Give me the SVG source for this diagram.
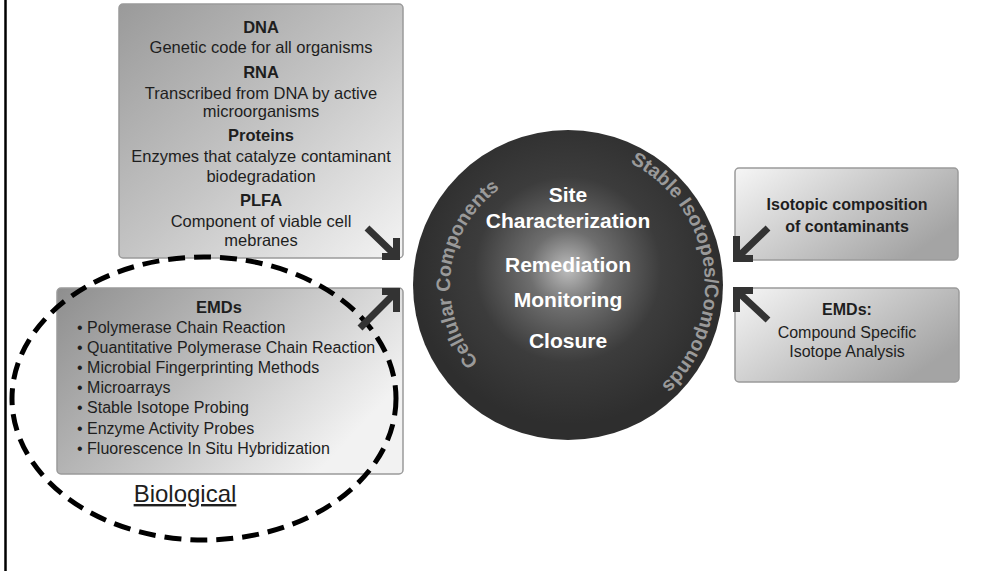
<svg xmlns="http://www.w3.org/2000/svg" width="1005" height="571" viewBox="0 0 1005 571">
<defs>
<linearGradient id="gTop" x1="0" y1="0" x2="1" y2="1">
<stop offset="0" stop-color="#9a9a9a"/>
<stop offset="0.5" stop-color="#c4c4c4"/>
<stop offset="1" stop-color="#f4f4f4"/>
</linearGradient>
<linearGradient id="gEmd" x1="0" y1="0" x2="1" y2="0.5">
<stop offset="0" stop-color="#8e8e8e"/>
<stop offset="0.5" stop-color="#bdbdbd"/>
<stop offset="1" stop-color="#f2f2f2"/>
</linearGradient>
<linearGradient id="gRight" x1="0" y1="0" x2="1" y2="0.6">
<stop offset="0" stop-color="#f6f6f6"/>
<stop offset="0.5" stop-color="#cdcdcd"/>
<stop offset="1" stop-color="#a4a4a4"/>
</linearGradient>
<radialGradient id="gCircle" cx="0.5" cy="0.45" r="0.5">
<stop offset="0" stop-color="#bdbdbd"/>
<stop offset="0.25" stop-color="#6e6e6e"/>
<stop offset="0.6" stop-color="#3c3c3c"/>
<stop offset="1" stop-color="#2e2e2e"/>
</radialGradient>
<path id="arcLeft" d="M497,379.2 A118,118 0 0 1 521.9,176.4"/>
<path id="arcRight" d="M619.3,158 A137,137 0 0 1 652.3,393"/>
</defs>
<style>
.box{stroke:#9a9a9a;stroke-width:1.5}
.t{font-family:"Liberation Sans",Arial,sans-serif;fill:#1e1e1e;text-anchor:middle}
.b{font-weight:bold}
.li{font-family:"Liberation Sans",Arial,sans-serif;fill:#1e1e1e;font-size:16px}
.ct{font-family:"Liberation Sans",Arial,sans-serif;font-weight:bold;fill:#ffffff;font-size:21px;text-anchor:middle}
.arc{font-family:"Liberation Sans",Arial,sans-serif;font-weight:bold;fill:#9a9a9a;font-size:19.5px;text-anchor:middle}
.arrow{fill:none;stroke:#333333;stroke-width:7;stroke-linejoin:miter;stroke-linecap:butt}
</style>
<line x1="5.5" y1="0" x2="5.5" y2="571" stroke="#000" stroke-width="2.5"/>
<g id="cellular-box">
<rect class="box" x="119" y="4" width="284" height="254" rx="4" fill="url(#gTop)"/>
<text class="t b" x="261" y="33" font-size="16.5">DNA</text>
<text class="t" x="261" y="53" font-size="16.5">Genetic code for all organisms</text>
<text class="t b" x="261" y="78" font-size="16.5">RNA</text>
<text class="t" x="261" y="99" font-size="16.5">Transcribed from DNA by active</text>
<text class="t" x="261" y="117" font-size="16.5">microorganisms</text>
<text class="t b" x="261" y="141" font-size="16.5">Proteins</text>
<text class="t" x="261" y="162" font-size="16.5">Enzymes that catalyze contaminant</text>
<text class="t" x="261" y="182" font-size="16.5">biodegradation</text>
<text class="t b" x="261" y="206" font-size="16.5">PLFA</text>
<text class="t" x="261" y="227" font-size="16.5">Component of viable cell</text>
<text class="t" x="261" y="246" font-size="16.5">mebranes</text>
</g>
<g id="emds-box">
<rect class="box" x="57" y="288" width="346" height="186" rx="4" fill="url(#gEmd)"/>
<text class="t b" x="219" y="313" font-size="16.5">EMDs</text>
<text class="li" x="77" y="333">• Polymerase Chain Reaction</text>
<text class="li" x="77" y="353">• Quantitative Polymerase Chain Reaction</text>
<text class="li" x="77" y="373">• Microbial Fingerprinting Methods</text>
<text class="li" x="77" y="393">• Microarrays</text>
<text class="li" x="77" y="413">• Stable Isotope Probing</text>
<text class="li" x="77" y="434">• Enzyme Activity Probes</text>
<text class="li" x="77" y="454">• Fluorescence In Situ Hybridization</text>
</g>
<g id="biological-group">
<ellipse cx="204" cy="398.5" rx="192" ry="141.5" fill="none" stroke="#000" stroke-width="5" stroke-dasharray="17 9"/>
<text class="t" x="185" y="502" font-size="24" fill="#000" text-decoration="underline">Biological</text>
</g>
<g id="center-circle">
<circle cx="568" cy="285" r="155" fill="url(#gCircle)"/>
<text class="ct" x="568" y="202">Site</text>
<text class="ct" x="568" y="228">Characterization</text>
<text class="ct" x="568" y="272">Remediation</text>
<text class="ct" x="568" y="307">Monitoring</text>
<text class="ct" x="568" y="348">Closure</text>
<text class="arc"><textPath href="#arcLeft" startOffset="50%">Cellular Components</textPath></text>
<text class="arc"><textPath href="#arcRight" startOffset="50%">Stable Isotopes/Compounds</textPath></text>
</g>
<g id="isotopic-box">
<rect class="box" x="735" y="168" width="223" height="92" rx="4" fill="url(#gRight)"/>
<text class="t b" x="847" y="210" font-size="16">Isotopic composition</text>
<text class="t b" x="847" y="232" font-size="16">of contaminants</text>
</g>
<g id="csia-box">
<rect class="box" x="735" y="288" width="224" height="94" rx="4" fill="url(#gRight)"/>
<text class="t b" x="847" y="315" font-size="16">EMDs:</text>
<text class="t" x="847" y="338" font-size="16">Compound Specific</text>
<text class="t" x="847" y="357" font-size="16">Isotope Analysis</text>
</g>
<g id="connectors">
<path class="arrow" d="M367,228 L394,254 M382,256.5 L396.5,256.5 L396.5,238"/>
<path class="arrow" d="M360,328 L394,294 M382,291.5 L396.5,291.5 L396.5,312"/>
<path class="arrow" d="M768,228 L739,256 M753,258.5 L736.5,258.5 L736.5,236"/>
<path class="arrow" d="M768,320 L739,293 M753,290.5 L736.5,290.5 L736.5,312"/>
</g>
</svg>
